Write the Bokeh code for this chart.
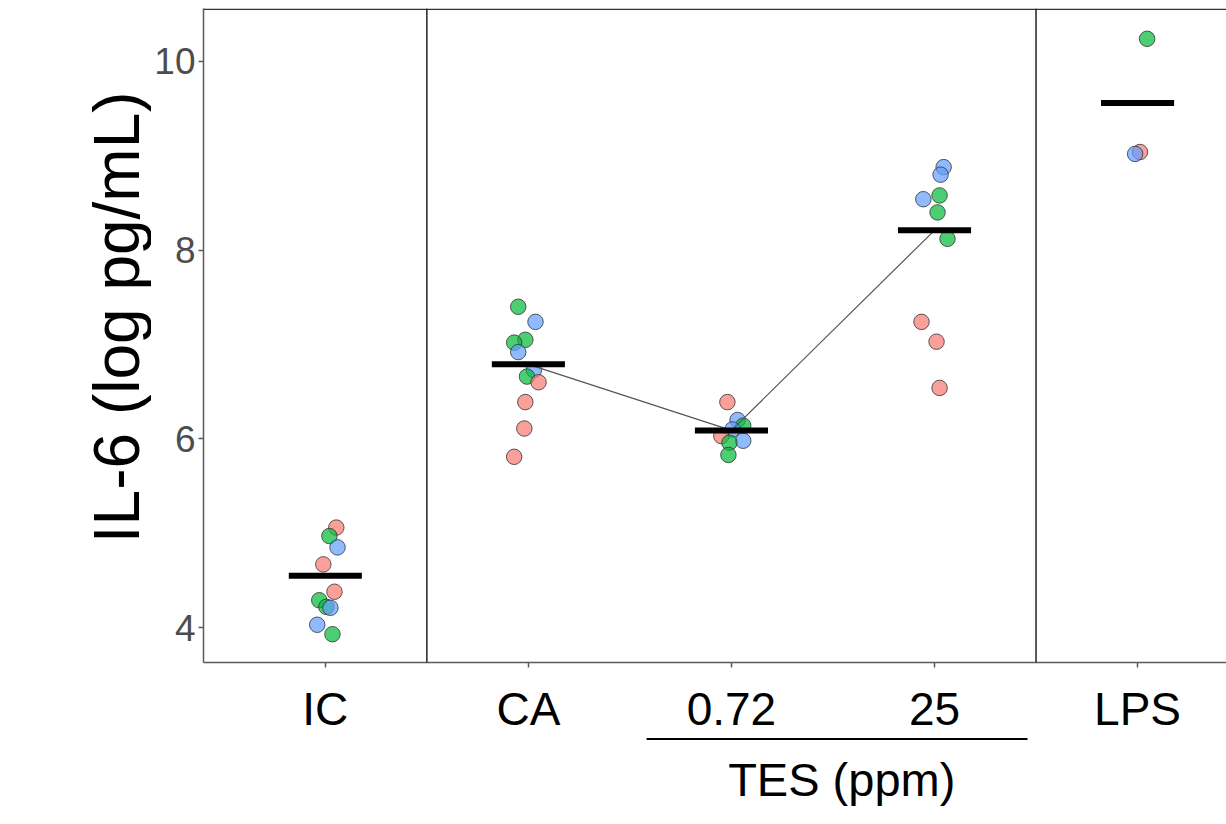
import math
from bokeh.plotting import figure
from bokeh.layouts import row, column
from bokeh.models import Span, FixedTicker, Range1d
from bokeh.core.properties import value
from bokeh.embed import file_html
from bokeh.resources import INLINE

# ---------------- data ----------------
categories = ["IC", "CA", "0.72", "25", "LPS"]
cat_pos = [1, 2, 3, 4, 5]
y_ticks = [4, 6, 8, 10]

# donor code per point: "A" (red), "B" (green), "C" (blue)
ic_values = [5.06, 4.97, 4.85, 4.67, 4.38, 4.29, 4.22, 4.21, 4.03, 3.93]
ic_jitter = [0.054, 0.020, 0.060, -0.010, 0.045, -0.030, 0.005, 0.025, -0.040, 0.035]
ic_donor = ["A", "B", "C", "A", "A", "B", "B", "C", "C", "B"]

ca_values = [7.40, 7.24, 7.05, 7.02, 6.92, 6.73, 6.66, 6.60, 6.39, 6.11, 5.81]
ca_jitter = [-0.050, 0.035, -0.015, -0.070, -0.050, 0.027, -0.007, 0.050, -0.015, -0.020, -0.070]
ca_donor = ["B", "C", "B", "B", "C", "C", "B", "A", "A", "A", "A"]

tes072_values = [6.39, 6.20, 6.14, 6.10, 6.03, 5.98, 5.96, 5.83]
tes072_jitter = [-0.020, 0.030, 0.058, 0.005, -0.050, 0.058, -0.010, -0.015]
tes072_donor = ["A", "C", "B", "C", "A", "C", "B", "B"]

tes25_values = [8.88, 8.80, 8.58, 8.54, 8.40, 8.12, 7.24, 7.03, 6.54]
tes25_jitter = [0.045, 0.030, 0.025, -0.055, 0.015, 0.064, -0.064, 0.010, 0.025]
tes25_donor = ["C", "C", "B", "C", "B", "B", "A", "A", "A"]

lps_values = [10.24, 9.04, 9.02]
lps_jitter = [0.047, 0.012, -0.012]
lps_donor = ["B", "A", "C"]

group_means = [4.55, 6.79, 6.09, 8.21, 9.56]

y_title = "IL-6 (log pg/mL)"
group_title = "TES (ppm)"

donor_colors = {"A": "#F8766D", "B": "#00BA38", "C": "#619CFF"}

groups = [
    (ic_values, ic_jitter, ic_donor),
    (ca_values, ca_jitter, ca_donor),
    (tes072_values, tes072_jitter, tes072_donor),
    (tes25_values, tes25_jitter, tes25_donor),
    (lps_values, lps_jitter, lps_donor),
]

FONT = "Liberation Sans"
TOTAL_W, TOTAL_H = 1226, 824
LEFT_W = 151          # strip holding the y title
MAIN_H = 737          # main panel height (frame from 8 to 663)


def bare(fig):
    fig.outline_line_color = None
    fig.background_fill_color = "white"
    fig.border_fill_color = "white"
    fig.xgrid.visible = False
    fig.ygrid.visible = False
    return fig


# ---------------- main figure ----------------
p = figure(width=TOTAL_W - LEFT_W, height=MAIN_H,
           x_range=Range1d(0.4, 5.438), y_range=Range1d(3.630, 10.561),
           min_border_left=202 - LEFT_W, min_border_right=0, min_border_top=8,
           min_border_bottom=MAIN_H - 663,
           output_backend="svg", toolbar_location=None)
bare(p)

for ax in (p.xaxis[0], p.yaxis[0]):
    ax.axis_line_color = "#5a5a5a"
    ax.axis_line_width = 1.5
    ax.major_tick_line_color = "#5a5a5a"
    ax.major_tick_line_width = 1.5
    ax.major_tick_out = 5
    ax.major_tick_in = 0
    ax.minor_tick_line_color = None
    ax.major_label_text_font = FONT

p.yaxis.ticker = FixedTicker(ticks=y_ticks)
p.yaxis.major_label_text_font_size = "37px"
p.yaxis.major_label_text_color = "#4D4D4D"
p.yaxis.major_label_standoff = 3

p.xaxis.ticker = FixedTicker(ticks=cat_pos)
p.xaxis.major_label_overrides = {pos: lab for pos, lab in zip(cat_pos, categories)}
p.xaxis.major_label_text_font_size = "46px"
p.xaxis.major_label_text_color = "black"
p.xaxis.major_label_standoff = 15

# frame top line and panel separators
p.add_layout(Span(location=10.552, dimension="width", line_color="#333333", line_width=1.5))
for sep in (1.5, 4.5):
    p.add_layout(Span(location=sep, dimension="height", line_color="#222222", line_width=1.5))

# points
for pos, (vals, jit, donors) in zip(cat_pos, groups):
    xs = [pos + j for j in jit]
    cols = [donor_colors[d] for d in donors]
    p.scatter(xs, vals, size=15.5, fill_color=cols, fill_alpha=0.7,
              line_color="#333333", line_alpha=0.8, line_width=1)

# line connecting the CA and TES means
p.line(cat_pos[1:4], group_means[1:4], line_color="#555555", line_width=1.2)

# mean bars
half = 0.18
p.segment(x0=[c - half for c in cat_pos], x1=[c + half for c in cat_pos],
          y0=group_means, y1=group_means, line_color="black", line_width=6)

# ---------------- left strip: y title ----------------
left = figure(width=LEFT_W, height=MAIN_H,
              x_range=Range1d(0, LEFT_W), y_range=Range1d(0, MAIN_H),
              min_border=0, x_axis_type=None, y_axis_type=None,
              output_backend="svg", toolbar_location=None)
bare(left)
left.text(x=[116], y=[MAIN_H - 348], text=[y_title], angle=math.pi / 2,
          text_align="center", text_baseline="middle",
          text_font=value(FONT), text_font_size="64px", text_color="black")

# ---------------- bottom strip: TES bracket ----------------
bottom = figure(width=TOTAL_W, height=TOTAL_H - MAIN_H,
                x_range=p.x_range, y_range=Range1d(0, TOTAL_H - MAIN_H),
                min_border_left=202, min_border_right=0, min_border_top=0,
                min_border_bottom=0, x_axis_type=None, y_axis_type=None,
                output_backend="svg", toolbar_location=None)
bare(bottom)
bottom.segment(x0=[cat_pos[2] - 0.415], x1=[cat_pos[3] + 0.459],
               y0=[TOTAL_H - 738.5], y1=[TOTAL_H - 738.5],
               line_color="black", line_width=2)
bottom.text(x=[(cat_pos[2] + cat_pos[3]) / 2 + 0.045], y=[TOTAL_H - 779],
            text=[group_title], text_align="center", text_baseline="middle",
            text_font=value(FONT), text_font_size="47px", text_color="black")

layout = column(row(left, p), bottom)
open("out.html", "w").write(file_html(layout, INLINE))
